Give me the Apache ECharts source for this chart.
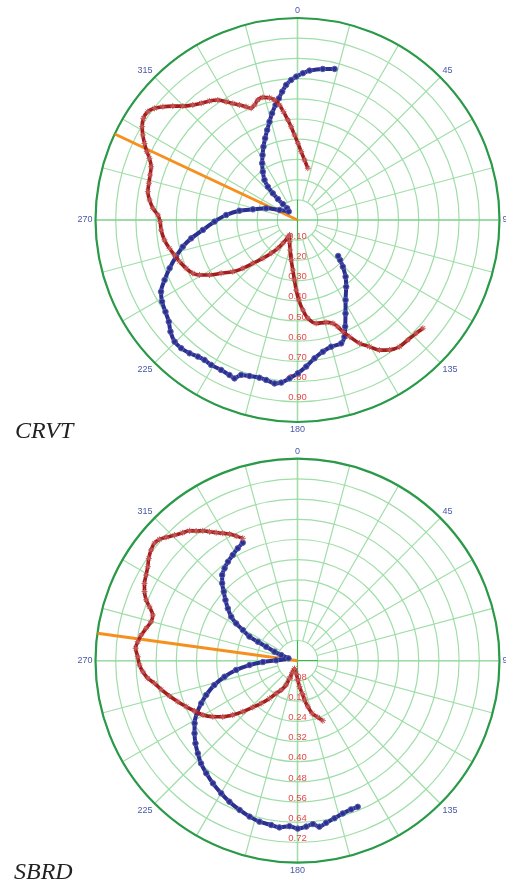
<!DOCTYPE html>
<html>
<head>
<meta charset="utf-8">
<script src="https://cdn.jsdelivr.net/npm/echarts@6/dist/echarts.min.js"></script>
<style>
  html, body { margin: 0; padding: 0; background: #ffffff; }
  #chart { width: 506px; height: 883px; }
</style>
</head>
<body>
<div id="chart"></div>
<script>
// Bearing labels shown round each rim (degrees, 0 = north, clockwise)
const angleTicks = [0, 45, 90, 135, 180, 225, 270, 315];

// Radial scales of the two plots
const crvtRadiusMax = 1.0, crvtRadiusStep = 0.1;
const sbrdRadiusMax = 0.8, sbrdRadiusStep = 0.08;

// CRVT traces: [radius, bearing]
const crvtTraceA = [
  [0.770,13.8],[0.758,9.5],[0.742,4.6],[0.727,2.1],[0.710,359.5],[0.694,357.4],[0.671,355.2],[0.640,353.2],
  [0.609,351.3],[0.580,349.2],[0.543,346.6],[0.506,344.1],[0.470,341.4],[0.435,338.4],[0.400,335.1],[0.365,331.7],
  [0.331,328.1],[0.294,324.3],[0.257,320.5],[0.221,318.3],[0.180,317.2],[0.142,316.9],[0.107,317.5],[0.077,318.5],
  [0.060,313.9],[0.102,299.1],[0.166,290.4],[0.227,283.4],[0.291,279.1],[0.354,274.0],[0.411,268.9],[0.471,264.0],
  [0.534,260.2],[0.583,256.9],[0.628,253.2],[0.677,249.3],[0.722,245.7],[0.763,242.3],[0.783,238.9],[0.796,235.2],
  [0.812,231.7],[0.837,228.7],[0.856,225.3],[0.857,222.2],[0.849,219.0],[0.837,216.1],[0.832,213.6],[0.835,210.8],
  [0.833,207.0],[0.838,203.7],[0.844,201.7],[0.816,200.0],[0.808,197.1],[0.803,193.6],[0.807,191.1],[0.817,188.0],
  [0.809,185.7],[0.785,182.9],[0.759,179.9],[0.727,176.6],[0.690,173.0],[0.664,169.1],[0.649,165.1],[0.648,160.5],
  [0.623,158.1],[0.578,155.9],[0.520,152.8],[0.462,149.0],[0.409,143.9],[0.368,139.7],[0.322,135.8],[0.290,133.2],
  [0.269,131.5]
];
const crvtTraceB = [
  [0.261,11.3],[0.299,6.7],[0.339,3.1],[0.380,0.3],[0.421,358.0],[0.463,356.1],[0.497,354.5],[0.541,352.6],
  [0.576,351.1],[0.605,349.2],[0.621,347.1],[0.631,344.2],[0.626,341.7],[0.608,339.5],[0.599,337.5],[0.616,335.6],
  [0.638,333.2],[0.660,331.0],[0.684,328.9],[0.713,326.4],[0.733,323.5],[0.749,320.5],[0.770,317.7],[0.800,314.8],
  [0.836,312.4],[0.871,310.1],[0.898,308.0],[0.915,305.9],[0.914,303.4],[0.897,301.0],[0.874,298.8],[0.847,296.6],
  [0.819,294.4],[0.794,292.6],[0.771,290.0],[0.763,287.0],[0.758,283.9],[0.754,280.7],[0.739,277.7],[0.718,274.6],
  [0.692,272.1],[0.680,269.3],[0.677,265.8],[0.666,261.5],[0.649,257.5],[0.633,254.1],[0.619,250.6],[0.601,246.5],
  [0.582,243.0],[0.556,240.7],[0.514,238.0],[0.461,235.1],[0.410,231.4],[0.361,228.5],[0.308,225.9],[0.256,222.1],
  [0.210,218.3],[0.171,214.8],[0.136,212.2],[0.098,209.2],[0.084,208.1],[0.114,200.3],[0.153,193.7],[0.200,189.0],
  [0.249,185.3],[0.297,182.9],[0.347,181.1],[0.396,179.1],[0.446,176.6],[0.489,174.0],[0.520,169.8],[0.526,164.4],
  [0.541,161.1],[0.565,159.3],[0.597,157.9],[0.632,156.0],[0.683,153.3],[0.721,150.4],[0.761,147.8],[0.788,144.7],
  [0.805,141.2],[0.807,137.4],[0.812,133.7],[0.820,130.8]
];
const crvtBearing = [[0, 295.2], [1.0, 295.2]];

// SBRD traces: [radius, bearing]
const sbrdTraceA = [
  [0.515,335.1],[0.504,332.0],[0.491,328.5],[0.479,324.9],[0.466,321.7],[0.452,318.7],[0.428,315.8],[0.400,313.1],
  [0.373,310.1],[0.345,306.9],[0.315,303.6],[0.284,301.3],[0.248,299.3],[0.213,296.6],[0.174,295.6],[0.136,294.1],
  [0.098,291.4],[0.068,289.1],[0.037,284.5],[0.085,270.9],[0.137,267.8],[0.191,264.8],[0.246,261.4],[0.296,257.6],
  [0.343,253.7],[0.386,249.4],[0.417,246.1],[0.450,242.4],[0.477,238.7],[0.499,234.8],[0.520,231.0],[0.539,227.1],
  [0.558,223.2],[0.574,219.0],[0.590,214.6],[0.606,209.9],[0.620,205.8],[0.634,201.2],[0.646,197.1],[0.655,193.3],
  [0.659,189.1],[0.664,186.2],[0.656,182.8],[0.665,179.9],[0.658,177.0],[0.650,174.6],[0.663,172.5],[0.652,170.0],
  [0.641,166.8],[0.631,163.5],[0.626,160.2],[0.626,157.6]
];
const sbrdTraceB = [
  [0.531,335.9],[0.550,333.8],[0.569,331.8],[0.585,329.6],[0.601,327.6],[0.618,325.7],[0.637,323.9],[0.652,322.0],
  [0.669,320.3],[0.681,318.1],[0.696,315.6],[0.714,313.2],[0.728,311.3],[0.733,309.4],[0.727,307.1],[0.715,304.5],
  [0.700,302.1],[0.689,299.5],[0.679,296.8],[0.665,294.3],[0.646,291.9],[0.624,290.0],[0.601,287.5],[0.600,284.9],
  [0.613,282.1],[0.627,279.3],[0.637,276.8],[0.643,274.4],[0.633,271.4],[0.626,268.4],[0.614,265.9],[0.597,263.3],
  [0.573,261.0],[0.552,258.1],[0.526,254.6],[0.501,251.1],[0.477,247.6],[0.454,244.0],[0.432,240.1],[0.402,236.5],
  [0.370,233.1],[0.335,230.0],[0.296,227.0],[0.256,223.8],[0.222,220.4],[0.186,216.6],[0.155,213.2],[0.133,209.1],
  [0.106,205.0],[0.077,204.4],[0.052,204.0],[0.033,201.4],[0.050,186.0],[0.077,179.0],[0.103,175.6],[0.131,171.9],
  [0.158,169.9],[0.187,167.3],[0.217,164.4],[0.238,160.3],[0.258,157.1]
];
const sbrdBearing = [[0, 277.8], [0.8, 277.8]];

// ---- layout & styling ----
const R = 202;                 // plot radius in px
const CX = 297.5;
const plots = [
  { cy: 220.0, max: crvtRadiusMax, step: crvtRadiusStep, a: crvtTraceA, b: crvtTraceB, bearing: crvtBearing },
  { cy: 660.7, max: sbrdRadiusMax, step: sbrdRadiusStep, a: sbrdTraceA, b: sbrdTraceB, bearing: sbrdBearing }
];

const COL_RING = '#9fdea8';
const COL_CROSS = '#3db54f';
const COL_RIM = '#2a9a48';
const COL_ANGLE_TXT = '#4a58aa';
const COL_RADIUS_TXT = '#e84848';
const COL_A = '#2b3090';
const COL_B = '#a31d1d';
const COL_BEARING = '#f5901e';

const polar = [], angleAxis = [], radiusAxis = [], series = [];
const hidden = { show: false };

plots.forEach((p) => {
  const base = polar.length;
  const center = [CX, p.cy];

  // data plane with rings and the main cross
  polar.push({ center, radius: [0, R] });
  angleAxis.push({
    polarIndex: base, type: 'value', min: 0, max: 360, interval: 90, startAngle: 90, clockwise: true,
    axisLine: hidden, axisTick: hidden, axisLabel: hidden,
    splitLine: { show: true, lineStyle: { color: COL_CROSS, width: 1.2 } }
  });
  radiusAxis.push({
    polarIndex: base, type: 'value', min: 0, max: p.max, interval: p.step,
    axisLine: hidden, axisTick: hidden, axisLabel: hidden,
    splitLine: { show: true, lineStyle: { color: COL_RING, width: 1.2 } }
  });

  // 15-degree spokes starting at the first ring
  polar.push({ center, radius: [R / 10, R] });
  angleAxis.push({
    polarIndex: base + 1, type: 'value', min: 0, max: 360, interval: 15, startAngle: 90, clockwise: true,
    axisLine: hidden, axisTick: hidden, axisLabel: hidden,
    splitLine: { show: true, lineStyle: { color: COL_RING, width: 1.2 } }
  });
  radiusAxis.push({ polarIndex: base + 1, type: 'value', min: 0, max: 1, show: false, splitLine: hidden });

  // rim and bearing labels
  polar.push({ center, radius: [0, R] });
  angleAxis.push({
    polarIndex: base + 2, type: 'value', min: 0, max: 360, interval: 45, startAngle: 90, clockwise: true,
    axisLine: { show: true, lineStyle: { color: COL_RIM, width: 2.2 } },
    axisTick: hidden, splitLine: hidden,
    axisLabel: {
      show: true, color: COL_ANGLE_TXT, fontSize: 9, fontFamily: 'Liberation Sans', margin: 3,
      formatter: v => (angleTicks.indexOf(v) >= 0 ? String(v) : '')
    }
  });
  radiusAxis.push({ polarIndex: base + 2, type: 'value', min: 0, max: 1, show: false, splitLine: hidden });

  // radius labels running down the south spoke
  polar.push({ center, radius: [0, R] });
  angleAxis.push({
    polarIndex: base + 3, type: 'value', min: 0, max: 360, startAngle: -90, show: false, splitLine: hidden
  });
  radiusAxis.push({
    polarIndex: base + 3, type: 'value', min: 0, max: p.max, interval: p.step,
    axisLine: hidden, axisTick: hidden, splitLine: hidden,
    axisLabel: {
      show: true, showMinLabel: false, showMaxLabel: false, margin: 0, rotate: 0,
      align: 'center', verticalAlign: 'bottom', lineHeight: 8,
      color: COL_RADIUS_TXT, fontSize: 9.5, fontFamily: 'Liberation Sans',
      formatter: v => v.toFixed(2)
    }
  });

  series.push({
    type: 'line', coordinateSystem: 'polar', polarIndex: base, data: p.bearing,
    symbol: 'none', lineStyle: { color: COL_BEARING, width: 3 }, z: 3, silent: true
  });
  series.push({
    type: 'line', coordinateSystem: 'polar', polarIndex: base, data: p.a, smooth: 0.3,
    symbol: 'circle', symbolSize: 5.5,
    itemStyle: { color: COL_A, borderColor: '#5a5fb0', borderWidth: 1 },
    lineStyle: { color: COL_A, width: 4 }, z: 4, silent: true
  });
  series.push({
    type: 'line', coordinateSystem: 'polar', polarIndex: base, data: p.b, smooth: 0.3,
    symbol: 'path://M5 0L5 10M0 5L10 5M1.5 1.5L8.5 8.5M8.5 1.5L1.5 8.5', symbolSize: 6,
    itemStyle: { color: COL_B, borderColor: '#c65a5a', borderWidth: 1 },
    lineStyle: { color: COL_B, width: 3.6 }, z: 5, silent: true
  });
});

const chart = echarts.init(document.getElementById('chart'), null, { renderer: 'canvas' });
chart.setOption({
  backgroundColor: '#ffffff',
  animation: false,
  polar, angleAxis, radiusAxis, series,
  graphic: [
    { type: 'text', left: 15, top: 420,
      style: { text: 'CRVT', font: 'italic 24px "Liberation Serif"', fill: '#222222' } },
    { type: 'text', left: 14, top: 861,
      style: { text: 'SBRD', font: 'italic 24px "Liberation Serif"', fill: '#222222' } }
  ]
});
</script>
</body>
</html>
